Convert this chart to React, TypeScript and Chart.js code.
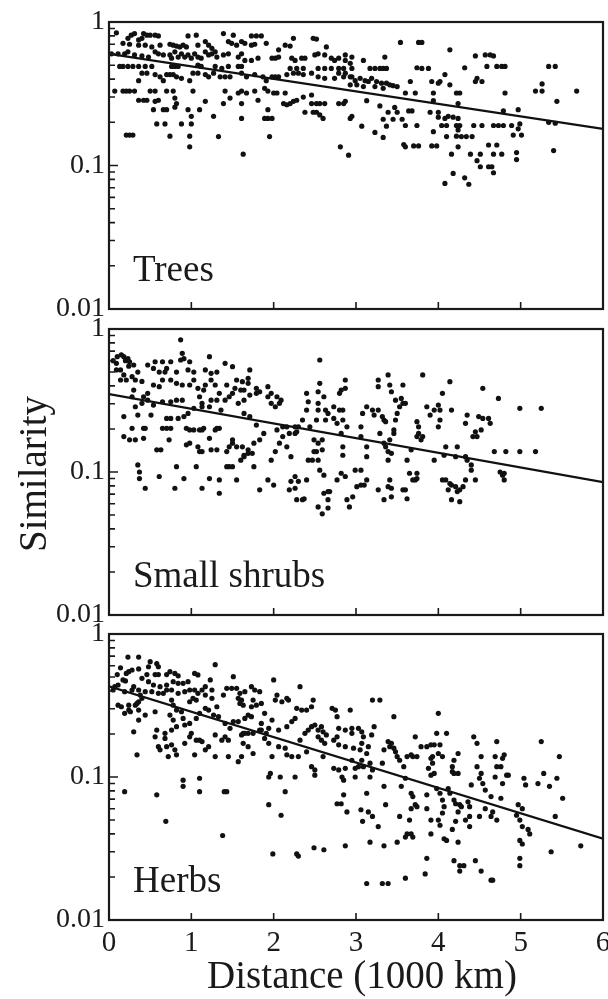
import { useEffect, useRef } from "react";
import { Chart, registerables } from "chart.js";

Chart.register(...registerables);

const FONT = "'Liberation Serif', 'Times New Roman', serif";
const INK = "#1a1a1a";

const xTicks = [0, 1, 2, 3, 4, 5, 6];
const xTickLabels = ["0", "1", "2", "3", "4", "5", "6"];
const yTicks = [0.01, 0.1, 1];
const yTickLabels = ["0.01", "0.1", "1"];
const xTitle = "Distance (1000 km)";
const yTitle = "Similarity";
const panelNames = ["Trees", "Small shrubs", "Herbs"];

const fitX = [0, 6];
const treesFit = [0.6, 0.18];
const shrubsFit = [0.35, 0.085];
const herbsFit = [0.43, 0.037];

const treesPts: [number, number][] = [
  [0.09,0.84],[0.27,0.81],[0.31,0.83],[0.42,0.83],[0.46,0.81],[0.50,0.81],[0.56,0.81],[0.60,0.80],[0.96,0.80],[1.06,0.81],[1.39,0.83],[1.51,0.81],[1.73,0.80],[1.79,0.80],[1.85,0.80],[2.24,0.77],[2.48,0.77],[2.52,0.76],[0.23,0.77],[0.40,0.77],[0.36,0.75],
  [0.17,0.71],[0.25,0.70],[0.36,0.69],[0.44,0.69],[0.52,0.67],[0.62,0.69],[0.74,0.70],[0.78,0.69],[0.82,0.68],[0.86,0.67],[0.90,0.69],[0.94,0.67],[1.08,0.69],[1.17,0.73],[1.21,0.69],[1.25,0.655],[1.29,0.62],[1.45,0.73],[1.49,0.71],[1.55,0.69],[1.61,0.73],[1.65,0.71],[1.73,0.69],[1.77,0.70],[1.91,0.71],[2.06,0.64],[2.14,0.69],[2.20,0.68],[2.54,0.60],[2.64,0.67],
  [0.03,0.60],[0.11,0.60],[0.19,0.60],[0.23,0.62],[0.31,0.59],[0.40,0.58],[0.48,0.57],[0.56,0.62],[0.60,0.60],[0.66,0.59],[0.74,0.59],[0.76,0.56],[0.80,0.62],[0.84,0.57],[0.88,0.60],[0.92,0.57],[0.96,0.59],[1.00,0.56],[1.04,0.60],[1.08,0.57],[1.12,0.56],[1.17,0.62],[1.21,0.59],[1.25,0.60],[1.31,0.57],[1.39,0.59],[1.45,0.60],[1.57,0.57],[1.61,0.60],[1.65,0.54],[1.73,0.54],[1.81,0.56],[1.98,0.56],[2.02,0.56],[2.06,0.57],[2.22,0.56],[2.26,0.54],[2.34,0.56],[2.38,0.56],[2.50,0.59],[2.62,0.59],[2.70,0.56],[2.79,0.56],[2.87,0.59],[2.95,0.57],
  [0.13,0.49],[0.17,0.49],[0.23,0.49],[0.29,0.49],[0.36,0.49],[0.44,0.49],[0.52,0.49],[0.76,0.49],[0.80,0.49],[0.84,0.49],[1.08,0.50],[1.12,0.49],[1.29,0.49],[1.37,0.475],[1.45,0.49],[1.57,0.49],[1.61,0.49],[2.20,0.475],[2.28,0.475],[2.36,0.475],[2.54,0.475],[2.62,0.475],[2.70,0.475],[2.79,0.475],[2.85,0.475],[2.95,0.475],[2.74,0.54],[2.87,0.54],[2.93,0.515],
  [0.36,0.39],[0.40,0.44],[0.46,0.44],[0.56,0.43],[0.62,0.415],[0.66,0.39],[0.70,0.43],[0.74,0.43],[0.78,0.43],[0.82,0.415],[0.88,0.405],[0.98,0.39],[1.02,0.44],[1.08,0.44],[1.17,0.43],[1.21,0.415],[1.27,0.44],[1.35,0.415],[1.41,0.415],[1.47,0.415],[1.61,0.44],[1.67,0.415],[1.77,0.43],[1.87,0.415],[1.91,0.39],[1.98,0.415],[2.02,0.415],[2.06,0.415],[2.16,0.43],[2.24,0.44],[2.30,0.44],[2.36,0.43],[2.46,0.44],[2.54,0.415],[2.62,0.405],[2.74,0.405],[2.85,0.415],[2.95,0.415],[2.79,0.44],[2.87,0.44],
  [0.07,0.33],[0.17,0.33],[0.21,0.33],[0.25,0.33],[0.31,0.33],[0.36,0.285],[0.42,0.285],[0.46,0.285],[0.50,0.33],[0.56,0.33],[0.60,0.285],[0.56,0.28],[0.70,0.33],[0.78,0.33],[0.80,0.295],[0.82,0.27],[1.02,0.33],[1.17,0.28],[1.39,0.27],[1.41,0.33],[1.47,0.295],[1.57,0.32],[1.61,0.33],[1.67,0.32],[1.61,0.27],[1.77,0.33],[1.81,0.285],[1.89,0.345],[1.93,0.33],[2.00,0.32],[2.04,0.32],[2.14,0.32],[2.12,0.27],[2.16,0.265],[2.20,0.27],[2.24,0.28],[2.28,0.285],[2.36,0.30],[2.46,0.31],[2.46,0.27],[2.52,0.27],[2.56,0.27],[2.62,0.27],[2.79,0.27],[2.85,0.27],[2.87,0.28],
  [0.54,0.245],[0.66,0.245],[0.70,0.245],[0.80,0.255],[0.96,0.245],[1.00,0.22],[1.10,0.245],[1.27,0.22],[1.61,0.213],[1.89,0.213],[1.93,0.213],[1.98,0.213],[1.93,0.245],[2.38,0.235],[2.48,0.235],[2.52,0.235],[2.56,0.225],[2.60,0.213],[2.93,0.213],
  [0.58,0.195],[0.68,0.195],[0.88,0.195],[1.00,0.195],[0.21,0.163],[0.25,0.163],[0.29,0.163],[0.74,0.16],[0.98,0.16],[1.33,0.159],[1.95,0.159],
  [0.98,0.135],[2.81,0.135],[1.63,0.12],[2.91,0.118],
  [3.54,0.72],[3.76,0.72],[3.80,0.72],[4.14,0.64],[4.45,0.58],[4.57,0.59],[4.63,0.59],[4.67,0.58],[3.09,0.54],[3.35,0.57],
  [3.17,0.475],[3.23,0.475],[3.29,0.475],[3.33,0.475],[3.37,0.475],[3.74,0.48],[3.80,0.475],[3.88,0.475],[4.32,0.48],[4.59,0.49],[4.71,0.49],[4.77,0.49],[4.81,0.49],[5.34,0.49],[5.42,0.49],
  [2.93,0.415],[2.99,0.39],[3.05,0.405],[3.11,0.39],[3.15,0.385],[3.19,0.405],[3.25,0.385],[3.31,0.375],[3.37,0.375],[3.41,0.365],[3.45,0.36],[3.50,0.355],[2.93,0.365],[3.01,0.365],[3.09,0.355],[3.23,0.355],[3.33,0.345],
  [3.66,0.385],[3.92,0.385],[4.00,0.375],[4.02,0.385],[4.08,0.43],[4.14,0.365],[4.45,0.385],[4.47,0.405],[4.53,0.385],[5.26,0.37],
  [4.81,0.32],[5.18,0.33],[5.26,0.33],[5.68,0.33],[3.60,0.32],[3.72,0.32],[3.94,0.32],[4.22,0.32],[4.26,0.32],
  [3.13,0.283],[3.94,0.283],[4.24,0.27],[5.44,0.28],
  [2.95,0.22],[3.29,0.26],[3.39,0.235],[3.47,0.254],[3.50,0.235],[3.64,0.24],[3.68,0.24],[3.90,0.235],[4.00,0.235],[4.00,0.217],[4.08,0.213],[4.12,0.22],[4.18,0.217],[4.24,0.213],[4.79,0.24],[4.97,0.245],
  [3.07,0.188],[3.37,0.188],[3.33,0.21],[3.45,0.21],[3.56,0.21],[3.60,0.19],[3.74,0.19],
  [4.04,0.19],[4.10,0.19],[4.22,0.19],[4.26,0.19],[4.43,0.19],[4.53,0.19],[4.67,0.19],[4.73,0.19],[4.79,0.19],[4.89,0.19],[4.99,0.195],[5.34,0.20],[5.42,0.197],
  [3.23,0.17],[3.33,0.157],[3.94,0.172],[4.10,0.159],[4.22,0.16],[4.28,0.159],[4.34,0.159],[4.41,0.159],[4.24,0.177],[4.91,0.163],[5.01,0.163],[4.97,0.18],
  [3.58,0.14],[3.60,0.135],[3.70,0.137],[3.76,0.137],[3.92,0.137],[3.98,0.137],[4.24,0.135],[4.61,0.139],[4.71,0.139],
  [4.16,0.12],[4.39,0.12],[4.51,0.12],[4.67,0.12],[4.77,0.12],[4.95,0.123],[5.40,0.127],
  [4.47,0.108],[4.51,0.098],[4.61,0.098],[4.65,0.098],[4.67,0.089],[4.95,0.11],[4.18,0.088],[4.32,0.082],[4.37,0.074],[4.08,0.075],
];

const shrubsPts: [number, number][] = [
  [0.09,0.575],[0.14,0.517],[0.18,0.64],[0.23,0.62],[0.25,0.59],[0.30,0.56],[0.35,0.50],[0.32,0.44],[0.40,0.43],[0.14,0.44],[0.21,0.44],[0.09,0.517],[0.18,0.477],[0.28,0.464],[0.30,0.374],[0.28,0.336],[0.42,0.336],[0.47,0.355],[0.54,0.406],[0.61,0.395],
  [0.65,0.44],[0.61,0.50],[0.68,0.50],[0.70,0.53],[0.75,0.44],[0.82,0.50],[0.89,0.676],[0.91,0.62],[0.98,0.59],[0.87,0.607],[0.96,0.517],[1.03,0.50],[0.65,0.59],[0.75,0.59],[0.56,0.59],[0.47,0.56],[0.54,0.53],[0.82,0.417],[0.89,0.406],[0.98,0.406],
  [1.03,0.44],[1.08,0.385],[1.10,0.336],[1.15,0.374],[1.17,0.406],[1.17,0.517],[1.22,0.64],[1.24,0.49],[1.24,0.44],[1.31,0.50],[1.29,0.406],[1.34,0.355],[1.31,0.318],[1.36,0.271],[1.41,0.318],[1.43,0.406],[1.41,0.575],[1.50,0.545],[1.55,0.44],[1.62,0.428],
  [1.71,0.517],[1.50,0.355],[1.57,0.302],[1.13,0.302],[1.22,0.286],[1.13,0.286],[1.24,0.318],[1.03,0.279],[0.96,0.257],[0.89,0.318],[0.82,0.318],[0.75,0.31],[0.65,0.31],[0.54,0.294],[0.47,0.318],[0.40,0.302],[0.32,0.286],[0.18,0.244],[0.35,0.25],[0.51,0.25],
  [0.70,0.237],[0.75,0.237],[0.84,0.237],[0.91,0.244],[0.28,0.202],[0.42,0.202],[0.44,0.202],[0.65,0.202],[0.70,0.202],[0.75,0.202],[0.94,0.202],[0.98,0.197],[1.03,0.197],[1.10,0.197],[1.13,0.197],[1.15,0.202],[1.29,0.197],[1.31,0.202],[1.34,0.202],
  [0.18,0.177],[0.25,0.168],[0.32,0.168],[0.42,0.172],[0.58,0.143],[0.63,0.143],[0.73,0.168],[0.94,0.155],[0.98,0.159],[1.08,0.15],[1.10,0.139],[1.13,0.139],[1.22,0.172],[1.24,0.143],[1.31,0.143],[1.43,0.139],[1.46,0.15],[1.50,0.159],[1.50,0.168],[1.55,0.15],
  [1.62,0.15],[1.64,0.131],[1.69,0.143],[1.74,0.135],[1.76,0.159],[1.83,0.168],[1.88,0.186],[1.79,0.213],[1.71,0.244],[1.64,0.257],[1.64,0.318],[1.71,0.345],[1.79,0.355],[1.83,0.364],[1.93,0.336],[1.97,0.355],[2.02,0.286],[2.07,0.302],[2.04,0.336],[1.97,0.302],
  [2.09,0.318],[1.93,0.395],[1.79,0.385],[1.64,0.374],[1.69,0.417],[1.69,0.452],[1.60,0.374],[1.53,0.385],[1.46,0.336],
  [0.35,0.112],[0.37,0.10],[0.37,0.09],[0.44,0.077],[0.61,0.093],[0.80,0.077],[0.82,0.109],[0.91,0.09],[1.06,0.109],[1.13,0.077],[1.22,0.09],[1.34,0.071],[1.34,0.088],[1.43,0.109],[1.46,0.109],[1.50,0.109],[1.55,0.088],[1.60,0.121],[1.64,0.128],[1.69,0.135],
  [1.76,0.109],[1.83,0.075],[1.93,0.088],[2.00,0.081],[1.97,0.121],[2.02,0.139],[2.07,0.159],[2.11,0.177],[2.19,0.186],[2.26,0.186],[2.28,0.191],[2.30,0.207],[2.11,0.207],[2.04,0.197],[2.16,0.207],[2.26,0.207],[2.16,0.15],[2.21,0.128],[2.26,0.093],[2.21,0.086],
  [2.26,0.077],[2.19,0.075],[2.30,0.086],[2.35,0.064],[2.37,0.065],[2.28,0.064],[2.40,0.088],[2.42,0.121],[2.47,0.121],[2.49,0.168],[2.44,0.207],[2.35,0.231],[2.40,0.271],[2.42,0.31],[2.40,0.355],[2.52,0.231],[2.54,0.271],[2.54,0.302],[2.54,0.364],[2.56,0.417],
  [2.61,0.336],[2.56,0.607],[2.63,0.271],[2.66,0.257],[2.63,0.231],[2.59,0.168],[2.54,0.159],[2.52,0.139],[2.49,0.139],[2.59,0.143],[2.54,0.121],[2.56,0.103],[2.61,0.095],[2.66,0.073],[2.68,0.073],[2.61,0.071],[2.66,0.064],[2.54,0.057],[2.66,0.056],[2.59,0.051],
  [2.73,0.286],[2.73,0.237],[2.77,0.219],[2.80,0.271],[2.80,0.355],[2.82,0.374],[2.87,0.385],[2.87,0.44],[2.84,0.271],[2.84,0.231],[2.89,0.207],[2.82,0.186],[2.84,0.15],[2.84,0.131],[2.77,0.088],[2.82,0.098],[2.87,0.093],[2.89,0.064],[2.92,0.057],[2.96,0.067],
  [2.99,0.103],[3.01,0.079],[3.06,0.081],[3.10,0.081],[3.13,0.088],[3.06,0.103],[3.13,0.128],[3.13,0.15],[3.06,0.177],[3.06,0.207],[3.08,0.257],[3.13,0.286],[3.22,0.25],[3.20,0.271],[3.27,0.271],[3.32,0.244],[3.34,0.231],[3.36,0.225],[3.29,0.186],[3.34,0.159],
  [3.36,0.15],[3.39,0.139],[3.39,0.121],[3.43,0.135],[3.41,0.168],[3.46,0.186],[3.46,0.197],[3.48,0.231],[3.50,0.257],[3.53,0.286],[3.55,0.327],[3.57,0.302],[3.60,0.302],[3.27,0.44],[3.27,0.395],[3.39,0.477],[3.41,0.406],[3.43,0.364],[3.48,0.318],[3.57,0.406],
  [3.41,0.088],[3.39,0.079],[3.34,0.064],[3.27,0.075],[3.43,0.077],[3.43,0.067],[3.57,0.075],[3.60,0.075],[3.62,0.065],[3.69,0.088],[3.72,0.088],[3.74,0.09],[3.65,0.098],[3.74,0.098],[3.62,0.121],[3.67,0.143],[3.74,0.177],[3.76,0.186],[3.79,0.168],[3.81,0.177],
  [3.76,0.207],[3.74,0.225],[3.81,0.477],[3.86,0.286],[3.90,0.25],[3.95,0.271],[3.95,0.121],[4.00,0.207],[4.02,0.231],[4.02,0.271],[4.00,0.294],[4.05,0.355],[4.14,0.428],[4.16,0.271],[4.09,0.15],[4.07,0.131],[4.05,0.088],[4.09,0.088],[4.14,0.083],[4.16,0.081],
  [4.21,0.079],[4.12,0.075],[4.23,0.073],[4.16,0.064],[4.26,0.062],[4.26,0.075],[4.30,0.079],[4.33,0.088],[4.23,0.15],[4.21,0.128],[4.33,0.128],[4.35,0.121],[4.40,0.112],[4.40,0.103],[4.45,0.088],[4.35,0.25],[4.33,0.219],[4.45,0.191],[4.47,0.177],[4.42,0.177],
  [4.52,0.197],[4.54,0.385],[4.49,0.244],[4.54,0.237],[4.61,0.237],[4.63,0.219],[4.68,0.139],[4.73,0.327],[4.75,0.10],[4.78,0.095],[4.80,0.098],[4.80,0.088],[4.82,0.139],[4.99,0.279],[4.99,0.139],[5.18,0.139],[5.25,0.279],
  [0.87,0.84],[0.05,0.60],[0.10,0.64],[0.15,0.66],[0.20,0.60],[0.24,0.55],
];

const herbsPts: [number, number][] = [
  [0.23,0.69],[0.36,0.69],[0.50,0.64],[0.58,0.62],[0.60,0.59],[0.48,0.59],[0.36,0.57],[0.24,0.545],[0.21,0.53],[0.28,0.56],[1.29,0.61],[0.74,0.545],[0.80,0.53],[0.84,0.51],[0.70,0.52],[0.60,0.52],[0.56,0.52],[0.46,0.52],[0.40,0.49],[0.48,0.464],
  [0.54,0.44],[0.62,0.428],[0.70,0.44],[0.78,0.464],[0.84,0.452],[0.90,0.452],[0.96,0.464],[1.04,0.53],[1.08,0.517],[1.23,0.477],[1.17,0.428],[1.13,0.406],[1.04,0.406],[0.98,0.406],[0.92,0.395],[0.84,0.385],[0.76,0.406],[0.70,0.406],[0.66,0.385],[0.60,0.385],
  [0.52,0.395],[0.44,0.395],[0.36,0.406],[0.28,0.406],[0.17,0.477],[0.11,0.44],[0.07,0.428],[0.05,0.406],[0.19,0.395],[0.30,0.428],[0.38,0.374],[0.40,0.355],[0.36,0.336],[0.34,0.327],[0.32,0.318],[0.24,0.318],[0.11,0.318],[0.15,0.31],[0.24,0.294],[0.19,0.279],
  [0.26,0.286],[0.36,0.294],[0.36,0.25],[0.44,0.271],[0.56,0.286],[0.76,0.345],[0.78,0.318],[0.82,0.294],[0.74,0.271],[0.78,0.25],[0.88,0.286],[0.90,0.257],[0.98,0.336],[1.02,0.355],[1.06,0.345],[1.08,0.385],[1.17,0.374],[1.25,0.406],[1.25,0.355],[1.31,0.31],
  [1.39,0.374],[1.43,0.417],[1.49,0.417],[1.51,0.503],[1.55,0.417],[1.59,0.385],[1.57,0.355],[1.61,0.345],[1.59,0.327],[1.63,0.318],[1.65,0.395],[1.73,0.428],[1.77,0.406],[1.83,0.395],[1.75,0.345],[1.73,0.31],[1.79,0.318],[1.85,0.327],[1.89,0.279],[2.00,0.477],
  [2.04,0.374],[2.02,0.345],[2.10,0.336],[2.18,0.345],[2.16,0.355],[2.32,0.428],[2.28,0.302],[2.34,0.294],[2.40,0.294],[2.46,0.31],[2.48,0.345],[2.26,0.257],[2.22,0.244],[2.16,0.225],[2.06,0.213],[1.98,0.25],[1.94,0.219],[1.91,0.202],[1.85,0.237],[1.83,0.213],
  [1.73,0.264],[1.69,0.271],[1.65,0.257],[1.57,0.244],[1.51,0.244],[1.41,0.237],[1.33,0.264],[1.27,0.271],[1.21,0.294],[1.17,0.302],[1.10,0.279],[1.06,0.257],[0.98,0.237],[0.92,0.231],[0.82,0.225],[0.76,0.213],[0.68,0.202],[0.68,0.186],[0.58,0.213],[0.56,0.191],
  [0.60,0.163],[0.62,0.155],[0.70,0.163],[0.76,0.168],[0.80,0.155],[0.82,0.143],[0.72,0.139],[0.92,0.172],[0.98,0.191],[1.00,0.202],[1.06,0.181],[1.10,0.181],[1.13,0.177],[1.17,0.155],[1.21,0.163],[1.29,0.197],[1.37,0.181],[1.41,0.191],[1.45,0.181],[1.47,0.219],
  [1.61,0.197],[1.63,0.202],[1.65,0.202],[1.69,0.202],[1.75,0.202],[1.63,0.172],[1.69,0.163],[1.75,0.146],[1.85,0.213],[1.89,0.186],[1.94,0.172],[1.98,0.139],[2.06,0.163],[2.14,0.159],[2.16,0.143],[2.22,0.139],[2.32,0.181],[2.38,0.202],[2.42,0.213],[2.46,0.225],
  [2.50,0.231],[2.54,0.213],[2.58,0.225],[2.60,0.207],[2.64,0.197],[2.54,0.191],[2.58,0.181],[2.62,0.172],[2.73,0.181],[2.77,0.191],[2.79,0.219],[2.87,0.213],[2.95,0.202],[3.03,0.219],[3.07,0.207],[3.09,0.191],[2.79,0.168],[2.87,0.163],[2.97,0.159],[3.05,0.155],
  [2.71,0.302],[2.75,0.294],[2.77,0.264],[2.93,0.294],[2.95,0.219],[2.95,0.131],[3.03,0.118],[3.07,0.131],[2.99,0.115],[2.87,0.115],[2.79,0.112],[2.73,0.115],[2.50,0.112],[2.46,0.118],[2.50,0.103],[2.26,0.10],[2.08,0.10],[1.96,0.106],[1.94,0.10],[2.14,0.079],
  [2.30,0.139],[2.40,0.15],[2.60,0.139],[0.90,0.095],[1.10,0.098],[0.90,0.086],[1.10,0.079],[1.43,0.079],[0.19,0.079],[0.58,0.075],[0.34,0.143],[0.30,0.207],[1.04,0.143],[1.29,0.139],[1.45,0.139],[1.57,0.128],[1.61,0.139],[2.83,0.10],[2.85,0.095],[2.77,0.065],
  [2.85,0.075],[1.94,0.064],[2.99,0.10],[3.07,0.172],[3.09,0.118],
  [0.69,0.049],[1.38,0.039],[1.99,0.029],[2.28,0.029],[2.30,0.028],[2.49,0.032],[2.61,0.031],[2.87,0.033],[2.09,0.054],[1.40,0.079],[2.82,0.065],[2.89,0.057],[0.14,0.58],[0.10,0.52],[0.20,0.47],
  [3.20,0.345],[3.22,0.225],[3.19,0.197],[3.15,0.163],[3.13,0.146],[3.17,0.125],[3.20,0.112],[3.17,0.10],[3.13,0.077],[3.15,0.057],[3.20,0.053],[3.06,0.059],[3.08,0.049],[3.27,0.045],[3.17,0.035],[3.13,0.018],[3.29,0.345],[3.34,0.155],[3.32,0.125],[3.34,0.086],
  [3.36,0.064],[3.34,0.033],[3.32,0.018],[3.39,0.018],[3.39,0.177],[3.41,0.163],[3.43,0.172],[3.46,0.159],[3.48,0.15],[3.50,0.139],[3.46,0.264],[3.53,0.131],[3.58,0.118],[3.60,0.098],[3.55,0.086],[3.53,0.053],[3.50,0.035],[3.60,0.038],[3.62,0.04],[3.65,0.05],
  [3.67,0.04],[3.69,0.038],[3.60,0.0196],[3.67,0.06],[3.67,0.077],[3.69,0.073],[3.72,0.064],[3.74,0.062],[3.62,0.139],[3.67,0.143],[3.69,0.139],[3.74,0.139],[3.72,0.191],[3.79,0.163],[3.86,0.163],[3.91,0.168],[3.93,0.139],[3.91,0.135],[3.93,0.125],[3.88,0.115],
  [3.91,0.103],[3.95,0.106],[3.86,0.075],[3.91,0.05],[3.86,0.06],[3.91,0.04],[3.86,0.027],[3.84,0.021],[4.00,0.279],[3.98,0.202],[4.00,0.146],[4.05,0.139],[3.98,0.083],[4.02,0.077],[4.05,0.069],[4.07,0.062],[4.05,0.056],[4.00,0.05],[4.02,0.046],[4.07,0.037],
  [4.10,0.036],[4.12,0.083],[4.17,0.109],[4.19,0.106],[4.24,0.106],[4.24,0.146],[4.19,0.131],[4.17,0.118],[4.14,0.077],[4.19,0.069],[4.21,0.065],[4.26,0.064],[4.28,0.062],[4.24,0.057],[4.21,0.049],[4.17,0.043],[4.24,0.035],[4.19,0.026],[4.26,0.024],[4.31,0.024],
  [4.26,0.022],[4.36,0.067],[4.38,0.062],[4.38,0.053],[4.33,0.05],[4.38,0.045],[4.40,0.088],[4.43,0.191],[4.47,0.172],[4.52,0.139],[4.47,0.118],[4.52,0.106],[4.50,0.098],[4.54,0.09],[4.57,0.081],[4.57,0.06],[4.50,0.053],[4.45,0.026],[4.52,0.022],[4.64,0.019],
  [4.66,0.019],[4.64,0.053],[4.66,0.057],[4.71,0.05],[4.64,0.073],[4.69,0.10],[4.71,0.118],[4.69,0.139],[4.71,0.177],[4.76,0.118],[4.78,0.09],[4.78,0.135],[4.80,0.143],[4.85,0.103],[4.83,0.103],[4.76,0.071],[4.97,0.064],[4.95,0.054],[4.99,0.05],[5.02,0.045],
  [4.99,0.036],[5.02,0.034],[4.99,0.027],[4.99,0.024],[5.02,0.06],[5.04,0.098],[5.09,0.043],[5.11,0.04],[5.06,0.088],[5.21,0.09],[5.25,0.177],[5.28,0.106],[5.35,0.086],[5.37,0.030],[5.42,0.053],[5.44,0.098],[5.47,0.139],[5.51,0.071],[5.73,0.033],
  [3.95,0.168],[4.02,0.168],[4.10,0.202],
];

type PanelExtra = { label: string; yTitle?: string; xTitle?: string };

const framePlugin = {
  id: "frame",
  afterDatasetsDraw(chart: any, _args: any, opts: PanelExtra) {
    const { ctx, chartArea: a, scales } = chart;
    const xs = scales.x;
    const ys = scales.y;
    ctx.save();
    ctx.strokeStyle = INK;
    ctx.lineWidth = 2.2;
    ctx.strokeRect(a.left, a.top, a.right - a.left, a.bottom - a.top);
    ctx.lineWidth = 1.6;
    ctx.beginPath();
    for (let i = 0; i < yTicks.length - 1; i++) {
      for (let m = 1; m <= 9; m++) {
        const v = yTicks[i] * m;
        const py = ys.getPixelForValue(v);
        const len = m === 1 ? 9 : 6;
        ctx.moveTo(a.left, py);
        ctx.lineTo(a.left + len, py);
      }
    }
    xTicks.slice(1, -1).forEach((v) => {
      const px = xs.getPixelForValue(v);
      ctx.moveTo(px, a.bottom);
      ctx.lineTo(px, a.bottom - 7);
    });
    ctx.stroke();

    ctx.fillStyle = INK;
    ctx.font = `37px ${FONT}`;
    ctx.textAlign = "left";
    ctx.textBaseline = "alphabetic";
    ctx.fillText(opts.label, a.left + 24, a.bottom - 28);

    if (opts.yTitle) {
      ctx.save();
      ctx.font = `39px ${FONT}`;
      ctx.textAlign = "center";
      ctx.textBaseline = "middle";
      ctx.translate(36, (a.top + a.bottom) / 2 + 2);
      ctx.rotate(-Math.PI / 2);
      ctx.fillText(opts.yTitle, 0, 0);
      ctx.restore();
    }
    if (opts.xTitle) {
      ctx.font = `39px ${FONT}`;
      ctx.textAlign = "center";
      ctx.textBaseline = "alphabetic";
      ctx.fillText(opts.xTitle, (a.left + a.right) / 2 + 6, a.bottom + 68);
    }
    ctx.restore();
  },
};

type PanelProps = {
  pts: [number, number][];
  fit: number[];
  extra: PanelExtra;
  top: number;
  height: number;
  padTop: number;
  axisH: number;
  showX: boolean;
};

function Panel({ pts, fit, extra, top, height, padTop, axisH, showX }: PanelProps) {
  const ref = useRef<HTMLCanvasElement | null>(null);
  useEffect(() => {
    if (!ref.current) return;
    const chart = new Chart(ref.current, {
      type: "scatter",
      data: {
        datasets: [
          {
            data: pts.map(([x, y]) => ({ x, y })),
            pointRadius: 2.6,
            pointBackgroundColor: "#111",
            pointBorderWidth: 0,
            backgroundColor: "#111",
            borderWidth: 0,
          },
          {
            type: "line",
            data: fitX.map((x, i) => ({ x, y: fit[i] })),
            borderColor: "#111",
            borderWidth: 2.2,
            pointRadius: 0,
            showLine: true,
            fill: false,
          } as any,
        ],
      },
      options: {
        responsive: false,
        animation: false,
        events: [],
        devicePixelRatio: 1,
        layout: { padding: { top: padTop, right: 5, left: 0, bottom: 0 } },
        plugins: {
          legend: { display: false },
          tooltip: { enabled: false },
          frame: extra,
        } as any,
        scales: {
          x: {
            type: "linear",
            min: 0,
            max: 6,
            grid: { display: false, drawTicks: false },
            border: { display: false },
            ticks: {
              display: showX,
              stepSize: 1,
              autoSkip: false,
              maxRotation: 0,
              padding: 6,
              color: INK,
              font: { family: FONT, size: 29 },
              callback: (v: any) => {
                const i = xTicks.indexOf(Number(v));
                return i < 0 ? "" : xTickLabels[i];
              },
            },
            afterFit: (s: any) => {
              s.height = axisH;
              s.paddingLeft = 0;
              s.paddingRight = 0;
            },
          },
          y: {
            type: "logarithmic",
            min: 0.01,
            max: 1,
            grid: { display: false, drawTicks: false },
            border: { display: false },
            ticks: {
              autoSkip: false,
              padding: 4,
              color: INK,
              font: { family: FONT, size: 28 },
              callback: (v: any) => {
                const i = yTicks.findIndex((t) => Math.abs(Math.log10(t) - Math.log10(Number(v))) < 1e-6);
                return i < 0 ? "" : yTickLabels[i];
              },
            },
            afterFit: (s: any) => {
              s.width = 109;
              s.paddingTop = 0;
              s.paddingBottom = 0;
            },
          },
        },
      },
      plugins: [framePlugin as any],
    });
    return () => chart.destroy();
  }, []);
  return (
    <canvas
      ref={ref}
      width={608}
      height={height}
      style={{ position: "absolute", left: 0, top, width: 608, height }}
    />
  );
}

export default function App() {
  return (
    <div style={{ position: "absolute", left: 0, top: 0, width: 608, height: 999, background: "#fff", overflow: "hidden" }}>
      <Panel pts={treesPts} fit={treesFit} extra={{ label: panelNames[0] }} top={0} height={322} padTop={22} axisH={13} showX={false} />
      <Panel pts={shrubsPts} fit={shrubsFit} extra={{ label: panelNames[1], yTitle }} top={316} height={312} padTop={13} axisH={13} showX={false} />
      <Panel pts={herbsPts} fit={herbsFit} extra={{ label: panelNames[2], xTitle }} top={622} height={377} padTop={12} axisH={79} showX={true} />
    </div>
  );
}
